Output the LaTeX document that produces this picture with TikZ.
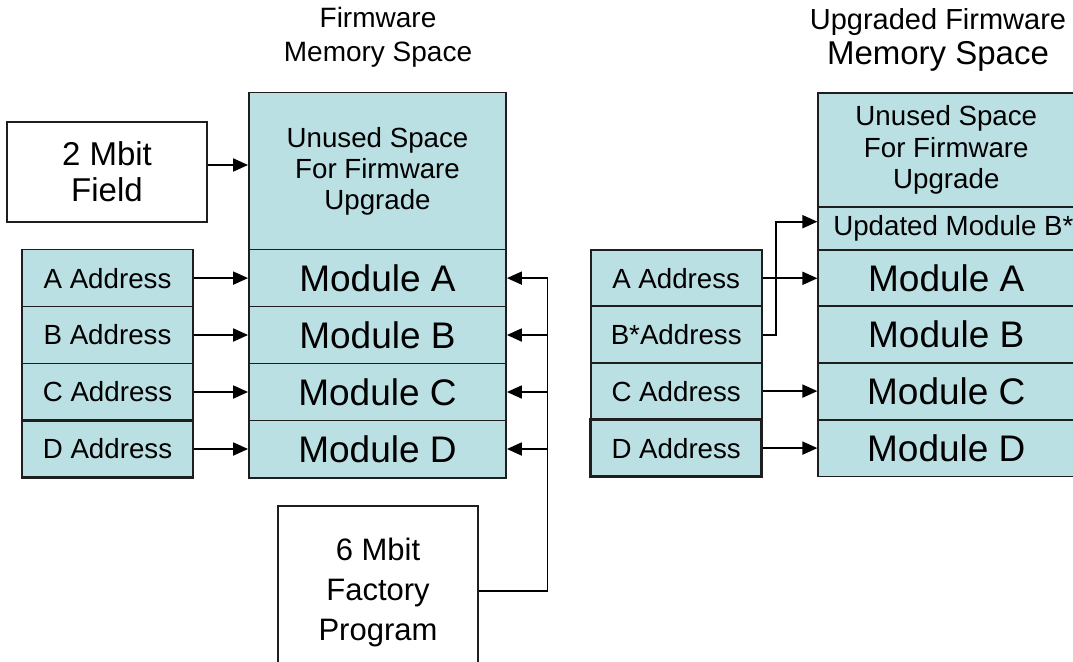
\documentclass[tikz,border=0pt]{standalone}
\usepackage{fontspec}
\setmainfont{Liberation Sans}
\usetikzlibrary{arrows.meta,calc}
\definecolor{cellfill}{RGB}{187,224,227}
\definecolor{cellline}{RGB}{30,30,30}
\newcommand{\fs}[2]{\fontsize{#1}{#2}\selectfont}
\tikzset{
  cell/.style={draw=cellline, line width=1.8pt, fill=cellfill, rectangle, inner sep=0pt, align=center},
  plainbox/.style={draw=cellline, line width=1.8pt, fill=white, rectangle, inner sep=0pt, align=center},
  heavy/.style={line width=2.8pt},
  link/.style={line width=1.8pt, -{Triangle[length=15pt,width=13pt]}},
  wire/.style={line width=1.8pt},
  title/.style={anchor=base, inner sep=0pt}
}
\begin{document}
\begin{tikzpicture}[x=1pt,y=-1pt]
\clip (0,0) rectangle (1073,661);
\fill[white] (0,0) rectangle (1073,661);

% ---------- original firmware memory space ----------
\node[title, font=\fs{28}{32}] (ttlA) at (378,28) {Firmware};
\node[title, font=\fs{28}{32}] (ttlB) at (378,62) {Memory Space};

\node[cell, minimum width=257pt, minimum height=157.5pt, font=\fs{27.7}{31}] (unusedL) at (377.5,171.2)
  {Unused Space\\For Firmware\\Upgrade};
\foreach \m/\yy in {A/278.1,B/335,C/392,D/449}{
  \node[cell, minimum width=257pt, minimum height=57.2pt, font=\fs{37}{41}] (modL\m) at (377.5,\yy) {Module \m};
}
\foreach \m/\yy in {A/278.1,B/335,C/392}{
  \node[cell, minimum width=171pt, minimum height=57.2pt, font=\fs{27.7}{31}] (adrL\m) at (107.5,\yy) {\m\ Address};
}
\node[cell, heavy, minimum width=171pt, minimum height=57.2pt, font=\fs{27.7}{31}] (adrLD) at (107.5,449) {D Address};

\node[plainbox, minimum width=200pt, minimum height=100pt, font=\fs{33}{36}] (field) at (107,172)
  {2 Mbit\\Field};
\node[plainbox, minimum width=200pt, minimum height=172pt, font=\fs{31}{40}] (factory) at (378,592)
  {6 Mbit\\Factory\\Program};

\draw[link] ([yshift=7pt]field.east) -- ([yshift=7pt]field.east -| unusedL.west);
\foreach \m in {A,B,C,D}{
  \draw[link] (adrL\m.east) -- (modL\m.west);
}

% factory program fed into every module
\coordinate (bus) at (547.5,591);
\draw[wire] (factory.east |- bus) -- (bus) -- (bus |- modLA.east);
\foreach \m in {A,B,C,D}{
  \draw[link] (bus |- modL\m.east) -- (modL\m.east);
}

% ---------- upgraded firmware memory space ----------
\node[title, font=\fs{29}{33}] (ttlC) at (938,30) {Upgraded Firmware};
\node[title, font=\fs{33}{37}] (ttlD) at (938,65) {Memory Space};

\node[cell, minimum width=256pt, minimum height=114pt, font=\fs{27.7}{31.5}] (unusedR) at (946.3,150.2)
  {Unused Space\\For Firmware\\Upgrade};
\node[cell, minimum width=256pt, minimum height=42.7pt, font=\fs{27.7}{31}] (updB) at (946.3,228.6)
  {\makebox[226pt][l]{Updated Module B*}};
\foreach \m/\yy in {A/278.3,B/334.6,C/391.1,D/448.1}{
  \node[cell, minimum width=256pt, minimum height=56.7pt, font=\fs{37}{41}] (modR\m) at (946.3,\yy) {Module \m};
}
\node[cell, minimum width=171pt, minimum height=56.7pt, font=\fs{27.7}{31}] (adrRA) at (676.2,278.3) {A Address};
\node[cell, minimum width=171pt, minimum height=56.7pt, font=\fs{27.7}{31}] (adrRB) at (676.2,334.6) {B*Address};
\node[cell, minimum width=171pt, minimum height=56.7pt, font=\fs{27.7}{31}] (adrRC) at (676.2,391.1) {C Address};
\node[cell, heavy, minimum width=171pt, minimum height=56.7pt, font=\fs{27.7}{31}] (adrRD) at (676.2,448.1) {D Address};

\draw[link] (adrRA.east) -- (modRA.west);
\draw[link] (adrRC.east) -- (modRC.west);
\draw[link] (adrRD.east) -- (modRD.west);
\coordinate (jog) at (776,221.7);
\draw[link] (adrRB.east) -- (adrRB.east -| jog) -- (jog) -- (jog -| updB.west);
\end{tikzpicture}
\end{document}
